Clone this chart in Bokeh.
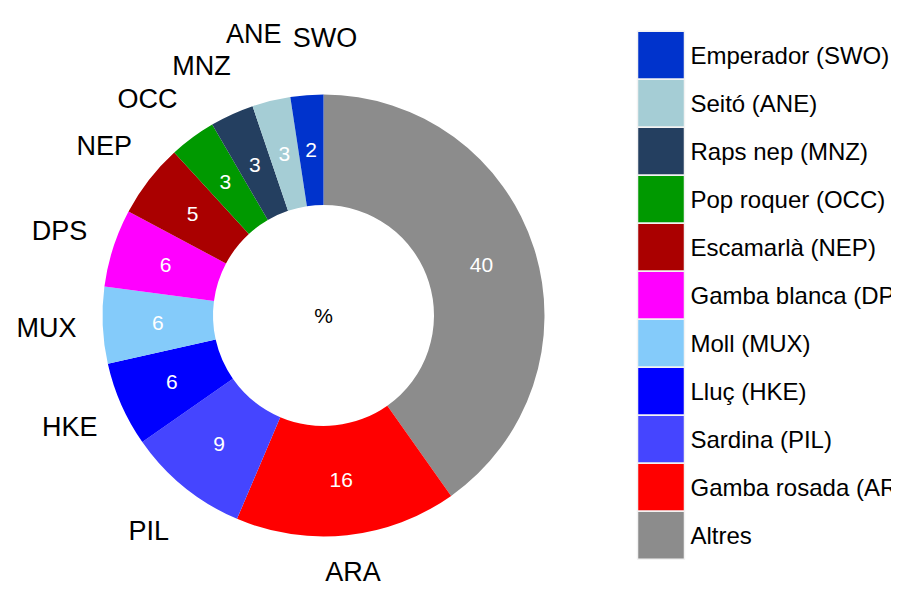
import numpy as np
from bokeh.plotting import figure
from bokeh.models import ColumnDataSource
from bokeh.core.properties import value
from bokeh.embed import file_html
from bokeh.resources import INLINE

# ---- data (clockwise from 12 o'clock) ----
codes = ["Altres", "ARA", "PIL", "HKE", "MUX", "DPS", "NEP", "OCC", "MNZ", "ANE", "SWO"]
names = ["Altres", "Gamba rosada (ARA)", "Sardina (PIL)", "Lluç (HKE)", "Moll (MUX)",
         "Gamba blanca (DPS)", "Escamarlà (NEP)", "Pop roquer (OCC)", "Raps nep (MNZ)",
         "Seitó (ANE)", "Emperador (SWO)"]
# shares
pct = [40.2, 16.2, 8.9, 6.2, 5.6, 5.7, 5.4, 3.4, 3.2, 2.8, 2.4]
# rounded values printed on the slices
pct_labels = [40, 16, 9, 6, 6, 6, 5, 3, 3, 3, 2]
outer_labels = ["", "ARA", "PIL", "HKE", "MUX", "DPS", "NEP", "OCC", "MNZ", "ANE", "SWO"]
colors = ["#8c8c8c", "#ff0000", "#4545ff", "#0000ff", "#84cbfa", "#ff00ff",
          "#aa0000", "#009900", "#243f60", "#a5cdd5", "#0033cc"]
center_text = "%"

# ---- layout ----
W, H = 891, 589
S = 221.0           # pixels per data unit (outer radius = 1)
CX, CY = 323, 315   # donut centre in figure pixels
FONT = "Liberation Sans"

def dx(px):
    return (px - CX) / S

def dy(py):
    return (CY - py) / S

p = figure(width=W, height=H, output_backend="svg", toolbar_location=None,
           x_range=(dx(0), dx(W)), y_range=(dy(H), dy(0)), min_border=0)
p.axis.visible = False
p.grid.visible = False
p.outline_line_color = None
p.background_fill_color = "white"
p.border_fill_color = "white"

vals = np.array(pct, dtype=float)
frac = vals / vals.sum()
cum_end = np.cumsum(frac)
cum_start = cum_end - frac
start = np.pi / 2 - 2 * np.pi * cum_start
end = np.pi / 2 - 2 * np.pi * cum_end
mid = (start + end) / 2

src = ColumnDataSource(dict(x=[0] * len(vals), y=[0] * len(vals), start=start, end=end,
                            color=colors,
                            lx=0.75 * np.cos(mid), ly=0.75 * np.sin(mid),
                            txt=[str(v) for v in pct_labels]))
p.annular_wedge(x="x", y="y", inner_radius=0.5, outer_radius=1.0,
                start_angle="start", end_angle="end", direction="clock",
                fill_color="color", line_color=None, source=src)
p.text(x="lx", y="ly", text="txt", source=src, text_color="white",
       text_font=value(FONT), text_font_size="21px",
       text_align="center", text_baseline="middle")

p.text(x=[0], y=[0], text=[center_text], text_color="black",
       text_font=value(FONT), text_font_size="21px",
       text_align="center", text_baseline="middle")

# ---- outer labels with simple repulsion ----
cw = {"A": .667, "B": .667, "C": .722, "D": .722, "E": .667, "F": .611, "G": .778,
      "H": .722, "I": .278, "K": .667, "L": .556, "M": .833, "N": .722, "O": .778,
      "P": .667, "R": .722, "S": .667, "U": .722, "W": .944, "X": .667, "Z": .611}
fs = 27
idx = [i for i, t in enumerate(outer_labels) if t]
r0 = 1.255 * S
ax = np.array([r0 * np.cos(mid[i]) for i in idx])
ay = np.array([r0 * np.sin(mid[i]) for i in idx])
wid = np.array([sum(cw.get(c, .6) for c in outer_labels[i]) * fs for i in idx])
hgt = fs * 0.8
ymin = -(H - CY) + hgt / 2 + 7
free = ay > ymin          # labels that are not held by the bottom edge
x = ax.copy()
y = np.maximum(ay, ymin)
pad = 12
for it in range(500):
    for a in range(len(idx)):
        for b in range(a + 1, len(idx)):
            ox = (wid[a] + wid[b]) / 2 + pad - abs(x[a] - x[b])
            oy = hgt + pad - abs(y[a] - y[b])
            if ox > 0 and oy > 0:
                ddx, ddy = x[a] - x[b], y[a] - y[b]
                n = np.hypot(ddx, ddy) or 1.0
                step = min(ox, oy) * 0.25
                x[a] += step * ddx / n
                y[a] += step * ddy / n
                x[b] -= step * ddx / n
                y[b] -= step * ddy / n
    # keep labels in a ring just outside the donut
    r = np.hypot(x, y)
    k = np.where(free, np.clip(r, r0, r0 + 18) / r, 1.0)
    x *= k
    y *= k
    y = np.maximum(y, ymin)
    # weak pull back to anchor
    x += (ax - x) * 0.01
    y += (np.maximum(ay, ymin) - y) * 0.01

p.text(x=x / S, y=y / S, text=[outer_labels[i] for i in idx], text_color="black",
       text_font=value(FONT), text_font_size=f"{fs}px",
       text_align="center", text_baseline="middle")

# ---- manual legend (top to bottom = reverse of pie order) ----
key_left, key_right = 637, 684
key_top, key_step = 30.7, 48.0
n = len(codes)
order = list(range(n))[::-1]
ky = [dy(key_top + key_step * (k + 0.5)) for k in range(n)]
p.rect(x=[dx((key_left + key_right) / 2)] * n, y=ky,
       width=(key_right - key_left) / S, height=key_step / S,
       fill_color=[colors[i] for i in order], line_color="#f2f2f2", line_width=1.5)
p.text(x=[dx(690)] * n, y=ky, text=[names[i] for i in order], text_color="black",
       text_font=value(FONT), text_font_size="24px",
       text_align="left", text_baseline="middle")

open("out.html", "w").write(file_html(p, INLINE))
